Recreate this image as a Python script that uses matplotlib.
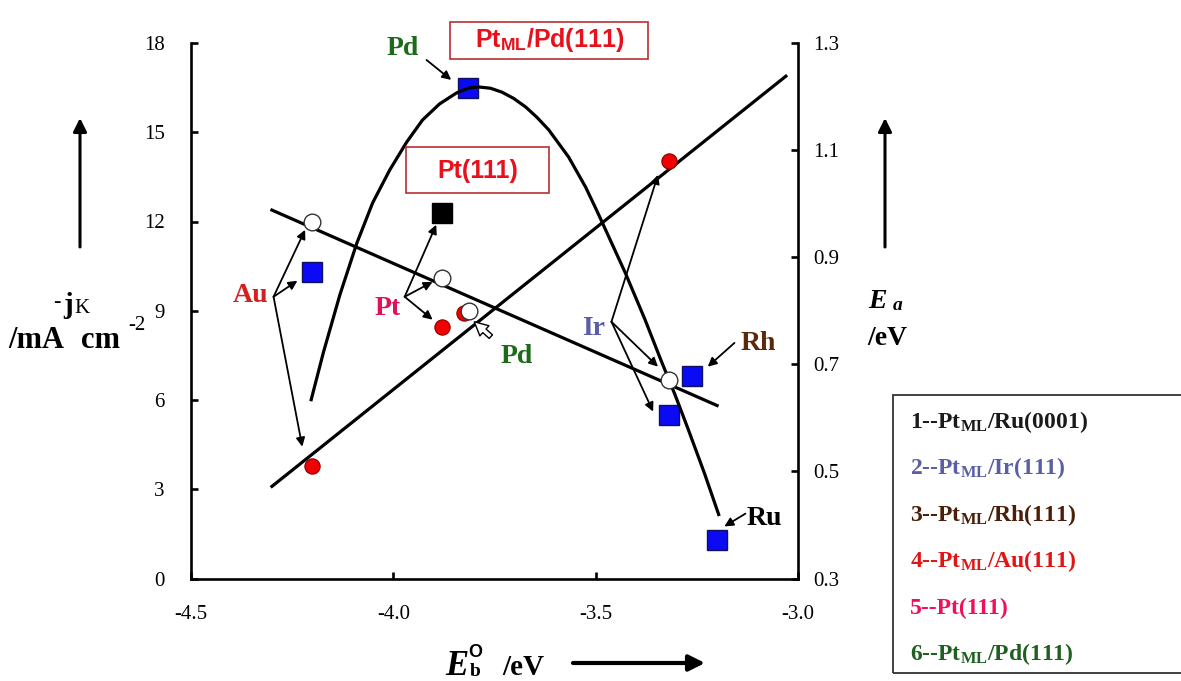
import matplotlib
matplotlib.use("Agg")
import matplotlib.pyplot as plt
from matplotlib.patches import Rectangle, FancyArrowPatch

plt.rcParams['font.family'] = 'Liberation Serif'
plt.rcParams['mathtext.fontset'] = 'custom'
plt.rcParams['mathtext.rm'] = 'Liberation Serif:bold'
plt.rcParams['mathtext.it'] = 'Liberation Serif:bold:italic'
plt.rcParams['mathtext.bf'] = 'Liberation Serif:bold'
plt.rcParams['mathtext.sf'] = 'Liberation Sans:bold'

W, H = 1181, 681

# kinetic current of the Pt monolayers (blue) and Pt(111) (black), left axis
sq_eb = [-4.20, -3.815, -3.32, -3.263, -3.20]      # Au, Pd, Ir, Rh, Ru
sq_jk = [10.3, 16.5, 5.5, 6.8, 1.3]
pt_eb = [-3.88]
pt_jk = [12.3]

# volcano curve through the current data
volcano_eb = [-4.203, -4.173, -4.132, -4.090, -4.051, -4.009, -3.967, -3.928,
              -3.886, -3.844, -3.813, -3.788, -3.760, -3.732, -3.703, -3.673,
              -3.645, -3.616, -3.567, -3.525, -3.498, -3.427, -3.378, -3.339,
              -3.304, -3.272, -3.231, -3.196]
volcano_jk = [6.01, 7.59, 9.54, 11.28, 12.63, 13.73, 14.67, 15.41,
              15.95, 16.32, 16.49, 16.52, 16.48, 16.35, 16.14, 15.85,
              15.50, 15.08, 14.17, 13.16, 12.39, 10.28, 8.70, 7.35,
              6.18, 5.04, 3.53, 2.15]

# activation energies, right axis: O2 dissociation (red) and OH formation (open)
diss_eb = [-4.20, -3.88, -3.825, -3.32]            # Au, Pt, Pd, Ir
diss_ea = [0.51, 0.77, 0.795, 1.08]
oh_eb = [-4.20, -3.88, -3.813, -3.32]
oh_ea = [0.966, 0.862, 0.80, 0.67]

diss_fit_eb = [-4.30, -3.03]
diss_fit_ea = [0.472, 1.238]
oh_fit_eb = [-4.30, -3.20]
oh_fit_ea = [0.988, 0.623]

x_ticks = [-4.5, -4.0, -3.5, -3.0]
jk_ticks = [0, 3, 6, 9, 12, 15, 18]
ea_ticks = [0.3, 0.5, 0.7, 0.9, 1.1, 1.3]

legend_items = [r"1--Pt$_{\mathrm{ML}}$/Ru(0001)", r"2--Pt$_{\mathrm{ML}}$/Ir(111)",
                r"3--Pt$_{\mathrm{ML}}$/Rh(111)", r"4--Pt$_{\mathrm{ML}}$/Au(111)",
                "5--Pt(111)", r"6--Pt$_{\mathrm{ML}}$/Pd(111)"]
legend_colors = ['#1a1a1a', '#5b5ea6', '#4a1e08', '#e01515', '#f0105a', '#1f5f1f']


def fxy(x, y):
    # pixel position (from top-left) to figure fraction
    return (x / W, 1 - y / H)


fig = plt.figure(figsize=(W / 100, H / 100), dpi=100)
ax = fig.add_axes([191 / W, 1 - 578.5 / H, 607 / W, 535.5 / H])
ax2 = ax.twinx()

ax.set_xlim(-4.5, -3.0)
ax.set_ylim(0, 18)
ax2.set_ylim(0.3, 1.3)
ax.set_xticks(x_ticks)
ax.set_xticklabels(['%.1f' % v for v in x_ticks])
ax.set_yticks(jk_ticks)
ax.set_yticklabels([str(v) for v in jk_ticks])
ax2.set_yticks(ea_ticks)
ax2.set_yticklabels(['%.1f' % v for v in ea_ticks])

for a in (ax, ax2):
    a.spines['top'].set_visible(False)
    for s in a.spines.values():
        s.set_linewidth(1.9)
ax.spines['right'].set_visible(False)
ax2.spines['left'].set_visible(False)
ax2.spines['bottom'].set_visible(False)

ax.tick_params(axis='y', direction='in', length=5, width=1.9, labelsize=15, pad=19)
ax.tick_params(axis='x', direction='in', length=5, width=1.9, labelsize=15, pad=19)
ax2.tick_params(axis='y', direction='in', length=5, width=1.9, labelsize=15, pad=11)

ax.plot(sq_eb, sq_jk, 's', ms=14, mfc='#0a0af5', mec='#101060', mew=1.0, zorder=3)
ax.plot(pt_eb, pt_jk, 's', ms=14, mfc='black', mec='black', zorder=3)
ax.plot(volcano_eb, volcano_jk, '-', color='black', lw=2.3, zorder=4,
        solid_joinstyle='round')

ax2.plot(diss_fit_eb, diss_fit_ea, '-', color='black', lw=2.3, zorder=2)
ax2.plot(oh_fit_eb, oh_fit_ea, '-', color='black', lw=2.3, zorder=2)
ax2.plot(diss_eb, diss_ea, 'o', ms=11, mfc='#f00000', mec='#8b0000', mew=0.8, zorder=5)
ax2.plot(oh_eb, oh_ea, 'o', ms=12, mfc='white', mec='#333333', mew=1.0, zorder=6)

td = ax.transData


def pointer(start, end, style='-|>', **kw):
    props = dict(arrowstyle=style, color='black', lw=1.3, mutation_scale=13,
                 shrinkA=0, shrinkB=0)
    props.update(kw)
    ax2.annotate('', xy=end, xytext=start, xycoords=td, textcoords=td,
                 arrowprops=props, zorder=7)


def tag(x, y, s, color, size=20):
    ax2.text(x, y, s, transform=td, color=color, fontsize=size, fontweight='bold',
             ha='center', va='baseline', zorder=8)


tag(-4.353, 9.30, 'Au', '#d42020')
for end in [(-4.237, 10.01), (-4.218, 11.72), (-4.225, 4.43)]:
    pointer((-4.296, 9.47), end)

tag(-4.014, 8.87, 'Pt', '#e0105a')
for end in [(-3.903, 9.97), (-3.903, 8.70), (-3.894, 11.89)]:
    pointer((-3.972, 9.47), end)

tag(-3.695, 7.25, 'Pd', '#1a6b1a')
pointer((-3.759, 8.13), (-3.800, 8.63),
        style='simple,head_width=0.7,head_length=0.7,tail_width=0.25',
        fc='white', ec='black', lw=1.0, mutation_scale=14)

tag(-3.977, 17.60, 'Pd', '#1a6b1a')
pointer((-3.918, 17.43), (-3.857, 16.76))

tag(-3.506, 8.19, 'Ir', '#5b5ea6')
for end in [(-3.346, 13.57), (-3.346, 7.12), (-3.358, 5.61)]:
    pointer((-3.461, 8.63), end)

tag(-3.098, 7.69, 'Rh', '#5a2a0a')
pointer((-3.157, 7.92), (-3.223, 7.12))

tag(-3.083, 1.81, 'Ru', 'black')
pointer((-3.130, 2.18), (-3.182, 1.75))

# boxed surface names
for (x0, y0, x1, y1), (tx, ty), s in [((450, 22, 648, 59), (549.5, 47), r"Pt$_{\mathsf{ML}}$/Pd(111)"),
                                       ((406, 147, 549, 193), (477.5, 178), "Pt(111)")]:
    fig.add_artist(Rectangle(fxy(x0, y1), (x1 - x0) / W, (y1 - y0) / H,
                             transform=fig.transFigure, fill=False, ec='#b83030', lw=1.2))
    fig.text(*fxy(tx, ty), s, family='Liberation Sans', fontweight='bold', fontsize=18,
             color='#e8101a', ha='center', va='baseline')

# axis labels with their arrows
for (x0, y0), (x1, y1), lw, ms in [((80, 247), (80, 118), 2.2, 20),
                                   ((885, 247), (885, 118), 2.2, 20),
                                   ((573, 663), (705, 663), 3.0, 24)]:
    fig.add_artist(FancyArrowPatch(fxy(x0, y0), fxy(x1, y1), transform=fig.transFigure,
                                   arrowstyle='-|>', mutation_scale=ms, lw=lw,
                                   color='black', shrinkA=0, shrinkB=0))

fig.text(*fxy(57, 302), '-', fontsize=16, fontweight='bold', ha='center', va='center')
fig.text(*fxy(63, 313), 'j', fontsize=21, fontweight='bold', va='baseline')
fig.text(*fxy(74, 313), 'K', fontsize=15, va='baseline')
fig.text(*fxy(8, 348), '/mA', fontsize=22, fontweight='bold', va='baseline')
fig.text(*fxy(81, 348), 'cm', fontsize=22, fontweight='bold', va='baseline')
fig.text(*fxy(128, 330), '-2', fontsize=15, va='baseline')

fig.text(*fxy(868, 308), 'E', fontsize=20, fontweight='bold', style='italic', va='baseline')
fig.text(*fxy(893, 310), 'a', fontsize=14, fontweight='bold', style='italic', va='baseline')
fig.text(*fxy(867, 345), '/eV', fontsize=20, fontweight='bold', va='baseline')

fig.text(*fxy(445, 675), 'E', fontsize=25, fontweight='bold', style='italic', va='baseline')
fig.text(*fxy(470, 676), 'b', fontsize=14, fontweight='bold', va='baseline')
fig.text(*fxy(468, 657), 'O', fontsize=13, family='Liberation Sans', fontweight='bold', va='baseline')
fig.text(*fxy(502, 675), '/eV', fontsize=21, fontweight='bold', va='baseline')

# legend of surfaces
fig.add_artist(Rectangle(fxy(893, 673), 320 / W, (673 - 395) / H, transform=fig.transFigure,
                         fill=False, ec='#333333', lw=1.3))
for i, (s, c) in enumerate(zip(legend_items, legend_colors)):
    fig.text(*fxy(910, 428 + 46.4 * i), s, fontsize=17, fontweight='bold', color=c,
             va='baseline')

fig.savefig('out.png', dpi=100)
